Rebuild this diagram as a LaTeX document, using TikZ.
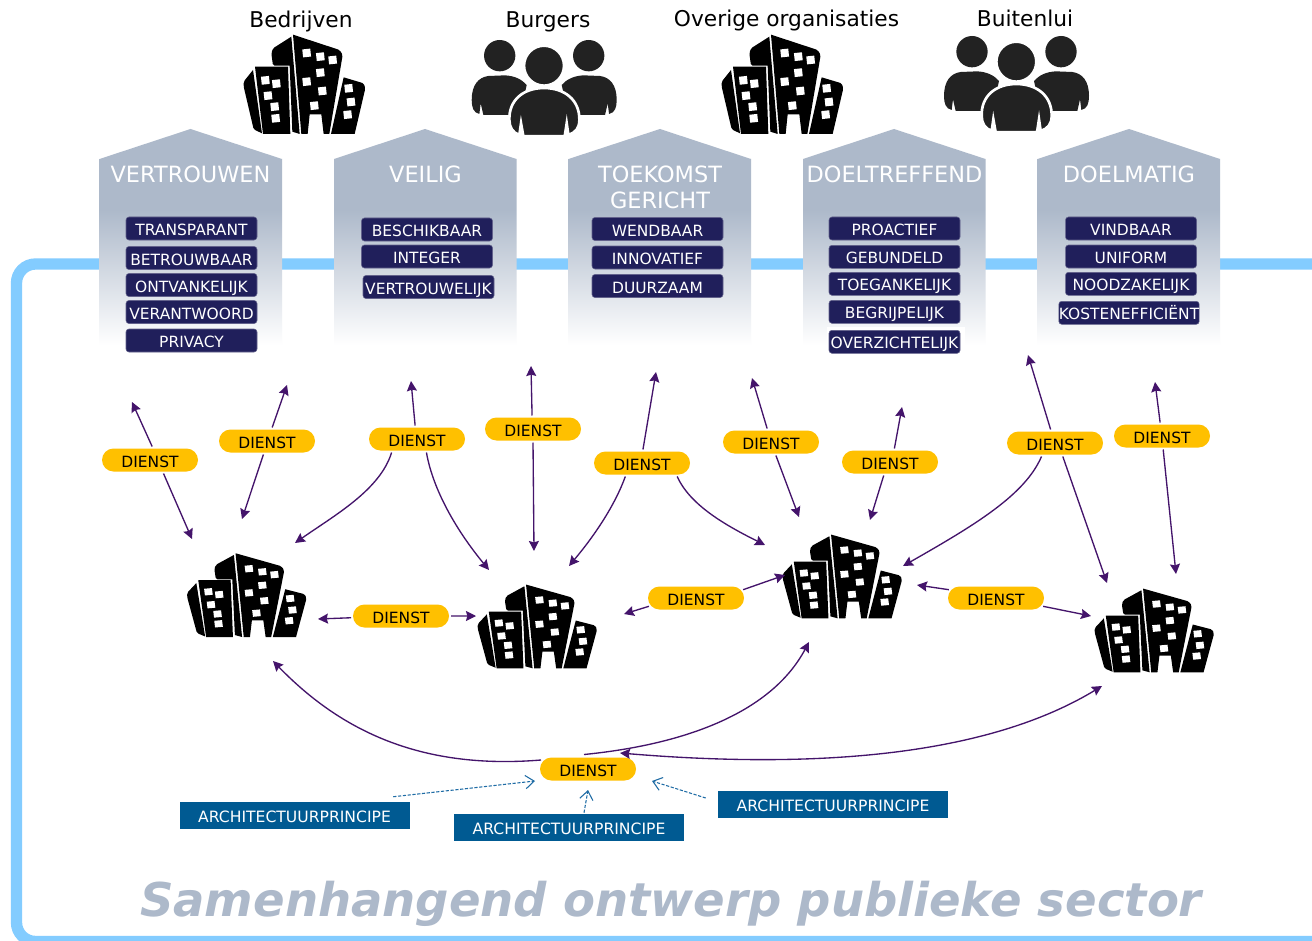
\documentclass[tikz,border=0pt]{standalone}
\usepackage{fontspec}
\setmainfont{DejaVu Sans}
\usetikzlibrary{arrows.meta,shapes.misc}
\definecolor{houseC}{HTML}{ADB9CA}
\definecolor{frameC}{HTML}{83CCFF}
\definecolor{navyC}{HTML}{201F5B}
\definecolor{pillC}{HTML}{FFC000}
\definecolor{archC}{HTML}{005A92}
\definecolor{arrowC}{HTML}{44146B}
\definecolor{dashC}{HTML}{1F6CA5}
\definecolor{peopleC}{HTML}{222222}
\pgfdeclareverticalshading{housefade}{100bp}{color(0bp)=(white); color(25bp)=(white); color(56.25bp)=(houseC); color(100bp)=(houseC)}
\tikzset{
  x=0.75pt,y=-0.75pt,
  toplabel/.style={font=\fontsize{16.3}{20}\selectfont,text=black,inner sep=0pt,text height=12pt,text depth=3.5pt},
  housetitle/.style={font=\fontsize{16.8}{19.5}\selectfont,text=white,align=center,inner sep=0pt},
  quality/.style={rectangle,rounded corners=2.2pt,fill=navyC,draw=navyC!70!white,line width=.4pt,text=white,
    minimum width=98.25pt,minimum height=17.25pt,inner sep=0pt,text height=10.7pt,text depth=0pt,
    font=\fontsize{11.6}{12}\selectfont},
  pill/.style={rounded rectangle,fill=pillC,text=black,minimum width=72pt,minimum height=17.25pt,
    inner sep=0pt,outer sep=1.5pt,text height=10.7pt,text depth=0pt,font=\fontsize{11.6}{12}\selectfont},
  archbox/.style={rectangle,fill=archC,text=white,minimum width=172.5pt,minimum height=20.25pt,
    inner sep=0pt,text height=10.7pt,text depth=0pt,font=\fontsize{11.7}{12}\selectfont},
  slogan/.style={font=\fontsize{34.9}{38}\selectfont\bfseries\itshape,text=houseC,inner sep=0pt},
  conn/.style={draw=arrowC,line width=1pt,-{Stealth[length=7.5pt,width=7.5pt,inset=1pt]}},
  biconn/.style={draw=arrowC,line width=1pt,{Stealth[length=7.5pt,width=7.5pt,inset=1pt]}-{Stealth[length=7.5pt,width=7.5pt,inset=1pt]}},
  dashconn/.style={draw=dashC,line width=.8pt,dash pattern=on 2.4pt off 1.2pt,-{Straight Barb[length=6.5pt,width=10pt]}},
}
\newcommand{\cityblock}[4]{%
  \begin{scope}[shift={(#1,#2)},xscale=#3,yscale=#4,shift={(-40,-42)}]
    \fill[black] [rounded corners=1.2pt] (190,44) -- (330,90) -- (339,105) [sharp corners] -- (299,342) -- (282,342) -- (275,283) -- (240,283) -- (234,342) -- (215,342) -- cycle;
    \fill[black] [rounded corners=1.2pt] (185,50) -- (130,85) -- (125,100) -- (130,137) [sharp corners] -- (180,137) -- (188,335) -- (210,342) -- cycle;
    \fill[black] (76,140) -- (175,140) -- (182,342) -- (100,342) -- cycle;
    \fill[black] [rounded corners=1.2pt] (70,150) -- (42,185) -- (42,200) -- (72,328) [sharp corners] -- (97,340) -- cycle;
    \fill[black] [rounded corners=1.2pt] (342,172) -- (402,190) -- (407,205) [sharp corners] -- (375,342) -- (304,342) -- cycle;
    \foreach \wx/\wy in {231/99,272/110,309/120,272/158,231/185,278/213,254/257,107/181,140/191,115/227,135/260,138/295,357/205,364/246,354/284}
      \fill[white,shift={(\wx,\wy)},rotate=6] (-12,-12) rectangle (12,12);
  \end{scope}}
\newcommand{\peoplegroup}[2]{%
  \begin{scope}[shift={(#1,#2)},scale=1/3,shift={(-725,-60)}]
    \foreach \side in {0,1}{
      \begin{scope}[shift={(1885*\side,0)},xscale=1-2*\side]
        \fill[peopleC] (809,107) circle (47);
        \fill[peopleC] (725,240) .. controls (725,195) and (745,172) .. (775,168) -- (825,166) .. controls (855,168) and (875,178) .. (890,195) -- (870,285) -- (760,285) -- (752,250) -- (748,282) .. controls (730,278) and (725,262) .. (725,240) -- cycle;
      \end{scope}}
    \filldraw[fill=peopleC,draw=white,line width=2pt] (942,137) circle (60);
    \filldraw[fill=peopleC,draw=white,line width=2pt] (838,300) .. controls (836,240) and (880,204) .. (942,204) .. controls (1004,204) and (1049,240) .. (1048,300) .. controls (1048,325) and (1036,338) .. (1015,345) -- (1010,310) -- (1004,349) -- (880,349) -- (873,310) -- (868,345) .. controls (848,338) and (838,322) .. (838,300) -- cycle;
  \end{scope}}
\newcommand{\pentahouse}[2]{% left x, apex x
  \shade[shading=housefade] (#1,159) -- (#2,129) -- (#1+182.5,159) -- (#1+182.5,345) -- (#1,345) -- cycle;}
\begin{document}
\begin{tikzpicture}
\useasboundingbox (0,0) rectangle (1312,941);
\fill[white] (0,0) rectangle (1312,941);
% frame
\begin{scope}
  \clip (0,0) rectangle (1312,941);
  \draw[frameC,line width=8.5pt,rounded corners=14.25pt] (1340,264) -- (16.5,264) -- (16.5,941.5) -- (1340,941.5);
\end{scope}
% houses
\pentahouse{99.5}{190.5}
\pentahouse{334}{425}
\pentahouse{568.5}{660}
\pentahouse{803}{894}
\pentahouse{1037.5}{1129}
\fill[white] (827,327) rectangle (965,356);
% top labels
\node[toplabel] (lbBedrijven) at (301,22.3) {Bedrijven};
\node[toplabel] (lbBurgers) at (548,22.3) {Burgers};
\node[toplabel] (lbOverige) at (786.5,21.3) {Overige organisaties};
\node[toplabel] (lbBuitenlui) at (1025,21.3) {Buitenlui};
% icons
\cityblock{243}{34}{0.3333}{0.3333}
\cityblock{721}{34}{0.3333}{0.3333}
\peoplegroup{471.7}{40}
\peoplegroup{944}{36}
\cityblock{186.5}{552.7}{0.327}{0.281}
\cityblock{477}{584}{0.327}{0.281}
\cityblock{782}{534}{0.327}{0.281}
\cityblock{1094}{588}{0.327}{0.281}
% titles
\node[housetitle] (tVertrouwen) at (190.5,174) {VERTROUWEN};
\node[housetitle] (tVeilig) at (425.5,174) {VEILIG};
\node[housetitle] (tToekomst) at (660,187) {TOEKOMST\\GERICHT};
\node[housetitle] (tDoeltreffend) at (894.5,174) {DOELTREFFEND};
\node[housetitle] (tDoelmatig) at (1129,174) {DOELMATIG};
% qualities
\node[quality] (q11) at (191.5,228.5) {TRANSPARANT};
\node[quality] (q12) at (191.5,258) {BETROUWBAAR};
\node[quality] (q13) at (191.5,285) {ONTVANKELIJK};
\node[quality] (q14) at (191.5,312) {VERANTWOORD};
\node[quality] (q15) at (191.5,340.5) {PRIVACY};
\node[quality] (q21) at (427,229.5) {BESCHIKBAAR};
\node[quality] (q22) at (427,256.5) {INTEGER};
\node[quality] (q23) at (428.5,287) {VERTROUWELIJK};
\node[quality] (q31) at (657.5,229) {WENDBAAR};
\node[quality] (q32) at (657.5,257.5) {INNOVATIEF};
\node[quality] (q33) at (657.5,286) {DUURZAAM};
\node[quality] (q41) at (894.5,228.5) {PROACTIEF};
\node[quality] (q42) at (894.5,256.8) {GEBUNDELD};
\node[quality] (q43) at (894.5,283.8) {TOEGANKELIJK};
\node[quality] (q44) at (894.5,311.8) {BEGRIJPELIJK};
\node[quality] (q45) at (894.5,341.8) {OVERZICHTELIJK};
\node[quality] (q51) at (1131,228.5) {VINDBAAR};
\node[quality] (q52) at (1131,256.5) {UNIFORM};
\node[quality] (q53) at (1131,283.8) {NOODZAKELIJK};
\node[quality] (q54) at (1129,312.8) {KOSTENEFFICIËNT};
% pills
\node[pill] (p1) at (150,460) {DIENST};
\node[pill] (p2) at (267,441) {DIENST};
\node[pill] (p3) at (417,439) {DIENST};
\node[pill] (p4) at (533,429) {DIENST};
\node[pill] (p5) at (642,463) {DIENST};
\node[pill] (p6) at (771,442) {DIENST};
\node[pill] (p7) at (890,462) {DIENST};
\node[pill] (p8) at (1055,443) {DIENST};
\node[pill] (p9) at (1162,436) {DIENST};
\node[pill] (p10) at (401,616) {DIENST};
\node[pill] (p11) at (696,598) {DIENST};
\node[pill] (p12) at (996,598) {DIENST};
\node[pill] (p13) at (588,769) {DIENST};
% architecture boxes
\node[archbox] (a1) at (294.5,815.5) {ARCHITECTUURPRINCIPE};
\node[archbox] (a2) at (569,827.5) {ARCHITECTUURPRINCIPE};
\node[archbox] (a3) at (833,804.5) {ARCHITECTUURPRINCIPE};
\node[slogan] (slogan) at (671,903.5) {Samenhangend ontwerp publieke sector};
% free ends
\coordinate (e1a) at (132,402); \coordinate (e1b) at (192,539);
\coordinate (e2a) at (287,385); \coordinate (e2b) at (242,519);
\coordinate (e3a) at (411,381); \coordinate (e3b) at (295,543); \coordinate (e3c) at (489,570);
\coordinate (e4a) at (531,366); \coordinate (e4b) at (534,551);
\coordinate (e5a) at (656,372); \coordinate (e5b) at (569,566); \coordinate (e5c) at (765,545);
\coordinate (e6a) at (752,378); \coordinate (e6b) at (799,517);
\coordinate (e7a) at (902,407); \coordinate (e7b) at (870,520);
\coordinate (e8a) at (1028,355); \coordinate (e8b) at (1107,583); \coordinate (e8c) at (903,566);
\coordinate (e9a) at (1155,382); \coordinate (e9b) at (1176,574);
\coordinate (e10a) at (318,619); \coordinate (e10b) at (476,616);
\coordinate (e11a) at (624,614); \coordinate (e11b) at (785,575);
\coordinate (e12a) at (917,585); \coordinate (e12b) at (1091,616);
\coordinate (e13a) at (273,661); \coordinate (e13b) at (809,642);
\coordinate (e13c) at (620,753); \coordinate (e13d) at (1102,686);
% straight connectors
\foreach \p/\ang/\e in {p1/81/e1a,p1/-45/e1b,p2/69/e2a,p2/-105/e2b,p3/98/e3a,p4/94/e4a,p4/-90/e4b,p5/86/e5a,
  p6/106/e6a,p6/-70/e6b,p7/72/e7a,p7/-115/e7b,p8/108/e8a,p8/-60/e8b,p9/98/e9a,p9/-85/e9b,
  p10/182/e10a,p10/0/e10b,p11/190/e11a,p11/10/e11b,p12/170/e12a,p12/-10/e12b}{
  \draw[conn] (\p.\ang) -- (\e);
}
% curved connectors
\draw[conn] (p3.208) .. controls (380,490) and (335,515) .. (e3b);
\draw[conn] (p3.-55) .. controls (432,485) and (452,525) .. (e3c);
\draw[conn] (p5.219) .. controls (615,505) and (595,535) .. (e5b);
\draw[conn] (p5.-21) .. controls (690,505) and (725,525) .. (e5c);
\draw[conn] (p8.-135) .. controls (1025,495) and (975,525) .. (e8c);
\draw[conn] ([shift={(-47,-9)}]p13.center) .. controls (420,770) and (340,730) .. (e13a);
\draw[conn] ([shift={(-4,-14.5)}]p13.center) .. controls (680,745) and (770,715) .. (e13b);
\draw[biconn] (e13c) .. controls (800,768) and (980,760) .. (e13d);
% dashed connectors
\draw[dashconn] ([shift={(-16.5,-5)}]a1.north east) -- ([shift={(-53,12)}]p13.center);
\draw[dashconn] ([shift={(15,-1)}]a2.north) -- ([shift={(0,21)}]p13.center);
\draw[dashconn] ([shift={(-12,-6.5)}]a3.west) -- ([shift={(64,12)}]p13.center);
\end{tikzpicture}
\end{document}
